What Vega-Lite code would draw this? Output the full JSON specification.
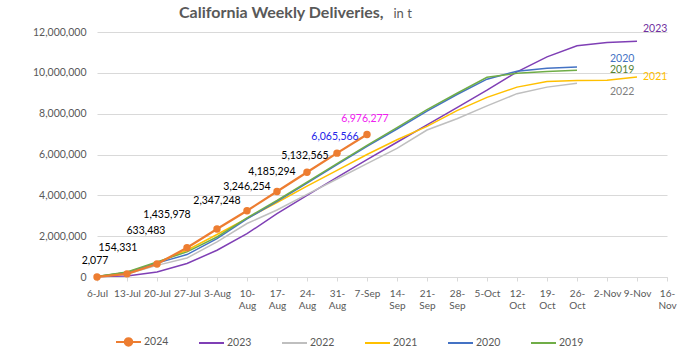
{
  "$schema": "https://vega.github.io/schema/vega-lite/v6.json",
  "width": 570,
  "height": 245,
  "autosize": "none",
  "padding": {"left": 97, "top": 32, "right": 21, "bottom": 75},
  "background": "white",
  "config": {"view": {"stroke": null}, "font": "Lato"},
  "title": {
    "text": "California Weekly Deliveries,",
    "anchor": "start",
    "frame": "group",
    "dx": 82,
    "dy": 40,
    "offset": 14,
    "baseline": "alphabetic",
    "font": "Lato",
    "fontSize": 16,
    "fontWeight": "bold",
    "color": "#595959"
  },
  "datasets": {
    "d": [
      {"week": "6-Jul", "year": "2024", "value": 2077},
      {"week": "13-Jul", "year": "2024", "value": 154331},
      {"week": "20-Jul", "year": "2024", "value": 633483},
      {"week": "27-Jul", "year": "2024", "value": 1435978},
      {"week": "3-Aug", "year": "2024", "value": 2347248},
      {"week": "10-Aug", "year": "2024", "value": 3246254},
      {"week": "17-Aug", "year": "2024", "value": 4185294},
      {"week": "24-Aug", "year": "2024", "value": 5132565},
      {"week": "31-Aug", "year": "2024", "value": 6065566},
      {"week": "7-Sep", "year": "2024", "value": 6976277},

      {"week": "6-Jul", "year": "2023", "value": 20000},
      {"week": "13-Jul", "year": "2023", "value": 50000},
      {"week": "20-Jul", "year": "2023", "value": 250000},
      {"week": "27-Jul", "year": "2023", "value": 660000},
      {"week": "3-Aug", "year": "2023", "value": 1310000},
      {"week": "10-Aug", "year": "2023", "value": 2120000},
      {"week": "17-Aug", "year": "2023", "value": 3100000},
      {"week": "24-Aug", "year": "2023", "value": 4000000},
      {"week": "31-Aug", "year": "2023", "value": 4880000},
      {"week": "7-Sep", "year": "2023", "value": 5750000},
      {"week": "14-Sep", "year": "2023", "value": 6600000},
      {"week": "21-Sep", "year": "2023", "value": 7450000},
      {"week": "28-Sep", "year": "2023", "value": 8300000},
      {"week": "5-Oct", "year": "2023", "value": 9150000},
      {"week": "12-Oct", "year": "2023", "value": 10050000},
      {"week": "19-Oct", "year": "2023", "value": 10780000},
      {"week": "26-Oct", "year": "2023", "value": 11330000},
      {"week": "2-Nov", "year": "2023", "value": 11490000},
      {"week": "9-Nov", "year": "2023", "value": 11550000},

      {"week": "6-Jul", "year": "2022", "value": 20000},
      {"week": "13-Jul", "year": "2022", "value": 150000},
      {"week": "20-Jul", "year": "2022", "value": 570000},
      {"week": "27-Jul", "year": "2022", "value": 930000},
      {"week": "3-Aug", "year": "2022", "value": 1720000},
      {"week": "10-Aug", "year": "2022", "value": 2620000},
      {"week": "17-Aug", "year": "2022", "value": 3280000},
      {"week": "24-Aug", "year": "2022", "value": 4050000},
      {"week": "31-Aug", "year": "2022", "value": 4800000},
      {"week": "7-Sep", "year": "2022", "value": 5550000},
      {"week": "14-Sep", "year": "2022", "value": 6300000},
      {"week": "21-Sep", "year": "2022", "value": 7200000},
      {"week": "28-Sep", "year": "2022", "value": 7750000},
      {"week": "5-Oct", "year": "2022", "value": 8380000},
      {"week": "12-Oct", "year": "2022", "value": 8980000},
      {"week": "19-Oct", "year": "2022", "value": 9300000},
      {"week": "26-Oct", "year": "2022", "value": 9490000},

      {"week": "6-Jul", "year": "2021", "value": 20000},
      {"week": "13-Jul", "year": "2021", "value": 220000},
      {"week": "20-Jul", "year": "2021", "value": 700000},
      {"week": "27-Jul", "year": "2021", "value": 1310000},
      {"week": "3-Aug", "year": "2021", "value": 2080000},
      {"week": "10-Aug", "year": "2021", "value": 2870000},
      {"week": "17-Aug", "year": "2021", "value": 3650000},
      {"week": "24-Aug", "year": "2021", "value": 4450000},
      {"week": "31-Aug", "year": "2021", "value": 5220000},
      {"week": "7-Sep", "year": "2021", "value": 6000000},
      {"week": "14-Sep", "year": "2021", "value": 6720000},
      {"week": "21-Sep", "year": "2021", "value": 7380000},
      {"week": "28-Sep", "year": "2021", "value": 8150000},
      {"week": "5-Oct", "year": "2021", "value": 8800000},
      {"week": "12-Oct", "year": "2021", "value": 9300000},
      {"week": "19-Oct", "year": "2021", "value": 9570000},
      {"week": "26-Oct", "year": "2021", "value": 9620000},
      {"week": "2-Nov", "year": "2021", "value": 9640000},
      {"week": "9-Nov", "year": "2021", "value": 9790000},

      {"week": "6-Jul", "year": "2020", "value": 20000},
      {"week": "13-Jul", "year": "2020", "value": 220000},
      {"week": "20-Jul", "year": "2020", "value": 680000},
      {"week": "27-Jul", "year": "2020", "value": 1100000},
      {"week": "3-Aug", "year": "2020", "value": 1880000},
      {"week": "10-Aug", "year": "2020", "value": 2850000},
      {"week": "17-Aug", "year": "2020", "value": 3700000},
      {"week": "24-Aug", "year": "2020", "value": 4600000},
      {"week": "31-Aug", "year": "2020", "value": 5500000},
      {"week": "7-Sep", "year": "2020", "value": 6400000},
      {"week": "14-Sep", "year": "2020", "value": 7250000},
      {"week": "21-Sep", "year": "2020", "value": 8120000},
      {"week": "28-Sep", "year": "2020", "value": 8940000},
      {"week": "5-Oct", "year": "2020", "value": 9690000},
      {"week": "12-Oct", "year": "2020", "value": 10080000},
      {"week": "19-Oct", "year": "2020", "value": 10220000},
      {"week": "26-Oct", "year": "2020", "value": 10280000},

      {"week": "6-Jul", "year": "2019", "value": 20000},
      {"week": "13-Jul", "year": "2019", "value": 250000},
      {"week": "20-Jul", "year": "2019", "value": 740000},
      {"week": "27-Jul", "year": "2019", "value": 1230000},
      {"week": "3-Aug", "year": "2019", "value": 1960000},
      {"week": "10-Aug", "year": "2019", "value": 2900000},
      {"week": "17-Aug", "year": "2019", "value": 3750000},
      {"week": "24-Aug", "year": "2019", "value": 4650000},
      {"week": "31-Aug", "year": "2019", "value": 5550000},
      {"week": "7-Sep", "year": "2019", "value": 6450000},
      {"week": "14-Sep", "year": "2019", "value": 7320000},
      {"week": "21-Sep", "year": "2019", "value": 8200000},
      {"week": "28-Sep", "year": "2019", "value": 9000000},
      {"week": "5-Oct", "year": "2019", "value": 9780000},
      {"week": "12-Oct", "year": "2019", "value": 9980000},
      {"week": "19-Oct", "year": "2019", "value": 10070000},
      {"week": "26-Oct", "year": "2019", "value": 10130000}
    ]
  },
  "data": {"name": "d"},
  "encoding": {
    "x": {
      "field": "week",
      "type": "ordinal",
      "sort": null,
      "scale": {
        "type": "point",
        "padding": 0,
        "domain": ["6-Jul","13-Jul","20-Jul","27-Jul","3-Aug","10-Aug","17-Aug","24-Aug","31-Aug","7-Sep","14-Sep","21-Sep","28-Sep","5-Oct","12-Oct","19-Oct","26-Oct","2-Nov","9-Nov","16-Nov"]
      },
      "axis": {
        "title": null,
        "labelAngle": 0,
        "labelFont": "Lato",
        "labelFontSize": 10,
        "labelColor": "#595959",
        "labelPadding": 7,
        "labelLineHeight": 12,
        "labelBaseline": "top",
        "labelOverlap": false,
        "labelExpr": "indexof(['6-Jul','13-Jul','20-Jul','27-Jul','3-Aug','7-Sep','5-Oct','2-Nov','9-Nov'], datum.value) >= 0 ? datum.value : [split(datum.value,'-')[0] + '-', split(datum.value,'-')[1]]",
        "domainColor": "#d9d9d9",
        "domainWidth": 1,
        "tickColor": "#d9d9d9",
        "tickSize": 4,
        "grid": false
      }
    },
    "y": {
      "field": "value",
      "type": "quantitative",
      "scale": {"domain": [0, 12000000], "nice": false},
      "axis": {
        "values": [0, 2000000, 4000000, 6000000, 8000000, 10000000, 12000000],
        "format": ",d",
        "labelFont": "Lato",
        "labelFontSize": 10.5,
        "labelColor": "#595959",
        "labelPadding": 11,
        "domain": false,
        "ticks": false,
        "gridColor": "#d9d9d9",
        "gridWidth": 1,
        "title": "in t",
        "titleAngle": 0,
        "titleX": 296,
        "titleY": -14.5,
        "titleAlign": "left",
        "titleBaseline": "alphabetic",
        "titleFont": "Lato",
        "titleFontSize": 13,
        "titleFontWeight": "normal",
        "titleColor": "#595959"
      }
    }
  },
  "layer": [
    {
      "transform": [{"filter": "datum.year !== '2024'"}],
      "mark": {"type": "line", "strokeWidth": 1.5},
      "encoding": {
        "color": {
          "field": "year",
          "type": "nominal",
          "scale": {
            "domain": ["2024","2023","2022","2021","2020","2019"],
            "range": ["#ED7D31","#7F3FB5","#BFBFBF","#FFC000","#4472C4","#70AD47"]
          },
          "legend": {
            "orient": "none",
            "legendX": 18,
            "legendY": 296,
            "direction": "horizontal",
            "title": null,
            "symbolType": "stroke",
            "symbolSize": 625,
            "symbolStrokeWidth": 2,
            "labelFont": "Lato",
            "labelFontSize": 10.5,
            "labelColor": "#595959",
            "labelOffset": 2,
            "columnPadding": 26,
            "encode": {
              "symbols": {
                "update": {
                  "shape": [
                    {"test": "datum.value === '2024'", "value": "M-1,0L1,0M0.3,0A0.3,0.3,0,1,1,-0.3,0A0.3,0.3,0,1,1,0.3,0Z"},
                    {"value": "stroke"}
                  ],
                  "fill": [
                    {"test": "datum.value === '2024'", "value": "#ED7D31"},
                    {"value": "transparent"}
                  ]
                }
              }
            }
          }
        }
      }
    },
    {
      "transform": [{"filter": "datum.year === '2024'"}],
      "mark": {"type": "line", "strokeWidth": 2.25},
      "encoding": {"color": {"field": "year", "type": "nominal"}}
    },
    {
      "transform": [{"filter": "datum.year === '2024'"}],
      "mark": {"type": "point", "filled": true, "size": 55, "opacity": 1, "color": "#ED7D31"}
    },
    {
      "transform": [{"filter": "datum.year === '2024' && indexof(['6-Jul','24-Aug','31-Aug','7-Sep'], datum.week) >= 0"}],
      "mark": {"type": "text", "dx": -2, "dy": -16, "font": "Lato", "fontSize": 10.5, "baseline": "middle"},
      "encoding": {
        "text": {"field": "value", "type": "quantitative", "format": ",d"},
        "color": {"condition": [{"test": "datum.week === '31-Aug'", "value": "#2424E8"}, {"test": "datum.week === '7-Sep'", "value": "#F020F0"}], "value": "#000000"}
      }
    },
    {
      "transform": [{"filter": "datum.year === '2024' && datum.week === '13-Jul'"}],
      "mark": {"type": "text", "dx": -9, "dy": -26, "font": "Lato", "fontSize": 10.5, "baseline": "middle", "color": "#000000"},
      "encoding": {"text": {"field": "value", "type": "quantitative", "format": ",d"}}
    },
    {
      "transform": [{"filter": "datum.year === '2024' && datum.week === '20-Jul'"}],
      "mark": {"type": "text", "dx": -11, "dy": -33, "font": "Lato", "fontSize": 10.5, "baseline": "middle", "color": "#000000"},
      "encoding": {"text": {"field": "value", "type": "quantitative", "format": ",d"}}
    },
    {
      "transform": [{"filter": "datum.year === '2024' && datum.week === '27-Jul'"}],
      "mark": {"type": "text", "dx": -20, "dy": -33, "font": "Lato", "fontSize": 10.5, "baseline": "middle", "color": "#000000"},
      "encoding": {"text": {"field": "value", "type": "quantitative", "format": ",d"}}
    },
    {
      "transform": [{"filter": "datum.year === '2024' && datum.week === '3-Aug'"}],
      "mark": {"type": "text", "dx": 0, "dy": -28, "font": "Lato", "fontSize": 10.5, "baseline": "middle", "color": "#000000"},
      "encoding": {"text": {"field": "value", "type": "quantitative", "format": ",d"}}
    },
    {
      "transform": [{"filter": "datum.year === '2024' && datum.week === '10-Aug'"}],
      "mark": {"type": "text", "dx": 0, "dy": -24, "font": "Lato", "fontSize": 10.5, "baseline": "middle", "color": "#000000"},
      "encoding": {"text": {"field": "value", "type": "quantitative", "format": ",d"}}
    },
    {
      "transform": [{"filter": "datum.year === '2024' && datum.week === '17-Aug'"}],
      "mark": {"type": "text", "dx": -5, "dy": -20, "font": "Lato", "fontSize": 10.5, "baseline": "middle", "color": "#000000"},
      "encoding": {"text": {"field": "value", "type": "quantitative", "format": ",d"}}
    },
    {
      "transform": [{"filter": "datum.year === '2023' && datum.week === '9-Nov'"}],
      "mark": {"type": "text", "align": "left", "dx": 6, "dy": -12, "font": "Lato", "fontSize": 10.5, "baseline": "middle", "color": "#7030A0"},
      "encoding": {"text": {"field": "year", "type": "nominal"}}
    },
    {
      "transform": [{"filter": "datum.year === '2021' && datum.week === '9-Nov'"}],
      "mark": {"type": "text", "align": "left", "dx": 6, "dy": 0, "font": "Lato", "fontSize": 10.5, "baseline": "middle", "color": "#FFC000"},
      "encoding": {"text": {"field": "year", "type": "nominal"}}
    },
    {
      "transform": [{"filter": "datum.year === '2020' && datum.week === '26-Oct'"}],
      "mark": {"type": "text", "align": "left", "dx": 33, "dy": -8, "font": "Lato", "fontSize": 10.5, "baseline": "middle", "color": "#4472C4"},
      "encoding": {"text": {"field": "year", "type": "nominal"}}
    },
    {
      "transform": [{"filter": "datum.year === '2019' && datum.week === '26-Oct'"}],
      "mark": {"type": "text", "align": "left", "dx": 33, "dy": 0, "font": "Lato", "fontSize": 10.5, "baseline": "middle", "color": "#548235"},
      "encoding": {"text": {"field": "year", "type": "nominal"}}
    },
    {
      "transform": [{"filter": "datum.year === '2022' && datum.week === '26-Oct'"}],
      "mark": {"type": "text", "align": "left", "dx": 33, "dy": 9, "font": "Lato", "fontSize": 10.5, "baseline": "middle", "color": "#7F7F7F"},
      "encoding": {"text": {"field": "year", "type": "nominal"}}
    }
  ]
}
